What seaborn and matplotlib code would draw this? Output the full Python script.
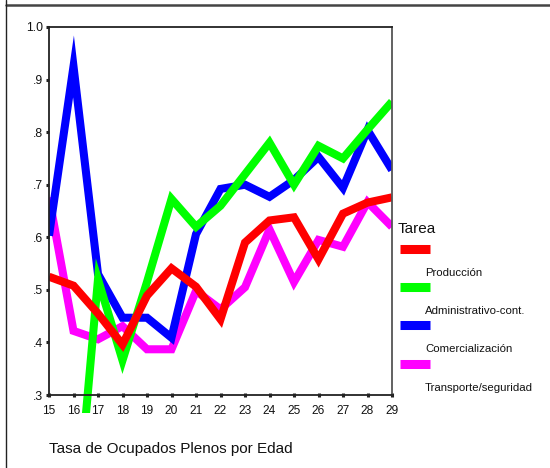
"""
Tasa de Ocupados Plenos por Edad, por tarea (recreación de un gráfico SPSS).
"""

import numpy as np
import pandas as pd
import matplotlib
matplotlib.use("Agg")
import matplotlib.pyplot as plt
from matplotlib.lines import Line2D
import seaborn as sns

# Datos
edades = list(range(15, 30))
tareas = ["Producción", "Administrativo-cont.", "Comercialización", "Transporte/seguridad"]
colores = ["#FF0000", "#00FF00", "#0000FF", "#FF00FF"]

produccion = [0.525, 0.508, 0.455, 0.396, 0.489, 0.541, 0.506, 0.444,
              0.590, 0.632, 0.638, 0.558, 0.645, 0.666, 0.676]
# a los 15 años no hay dato; a los 16 la tasa cae fuera del eje
administrativo = [np.nan, 0.0, 0.52, 0.366, 0.515, 0.673, 0.62, 0.66,
                  0.72, 0.78, 0.70, 0.774, 0.75, 0.805, 0.858]
comercializacion = [0.603, 0.925, 0.53, 0.447, 0.447, 0.409, 0.606, 0.692,
                    0.70, 0.677, 0.709, 0.753, 0.694, 0.804, 0.728]
transporte = [0.676, 0.422, 0.406, 0.431, 0.387, 0.387, 0.498, 0.463,
              0.505, 0.615, 0.515, 0.595, 0.582, 0.667, 0.62]

y_ticks = [0.3, 0.4, 0.5, 0.6, 0.7, 0.8, 0.9, 1.0]
y_labels = [".3", ".4", ".5", ".6", ".7", ".8", ".9", "1.0"]

# Tabla en formato largo para seaborn
series = [produccion, administrativo, comercializacion, transporte]
df = pd.concat(
    [pd.DataFrame({"Edad": edades, "Tasa": vals, "Tarea": t}) for t, vals in zip(tareas, series)],
    ignore_index=True,
).dropna()

sns.set_style("white")
plt.rcParams["font.family"] = ["Liberation Sans", "DejaVu Sans"]

W, H = 550, 468
fig = plt.figure(figsize=(W / 100, H / 100), dpi=100)
ax = fig.add_axes([49 / W, 1 - 413 / H, (392 - 49) / W, (413 - 27) / H])

# magenta abajo, rojo arriba (como en el original)
sns.lineplot(data=df, x="Edad", y="Tasa", hue="Tarea", hue_order=tareas[::-1],
             palette=dict(zip(tareas, colores)), lw=5.8, solid_joinstyle="miter",
             solid_capstyle="butt", errorbar=None, legend=False, ax=ax)

ax.set_xlim(15, 29)
ax.set_ylim(0.2658, 1.0)
ax.set_xticks(edades)
ax.set_xticklabels([str(e) for e in edades])
ax.set_yticks(y_ticks)
ax.set_yticklabels(y_labels)
ax.set_xlabel("")
ax.set_ylabel("")

for s in ax.spines.values():
    s.set_color("#222222")
    s.set_linewidth(1.3)
ax.spines["bottom"].set_position(("data", 0.3))
ax.spines["left"].set_bounds(0.3, 1.0)
ax.spines["right"].set_bounds(0.3, 1.0)
ax.spines["right"].set_color("#555555")

ax.tick_params(axis="y", direction="out", length=2.5, width=2.2, color="#222222",
               pad=1.5, labelsize=8.8, labelcolor="#111111", left=True)
ax.tick_params(axis="x", direction="inout", length=3, width=2.2, color="#222222",
               pad=5.5, labelsize=8.6, labelcolor="#111111", bottom=True)

# Título inferior
fig.text(49 / W, 1 - 449 / H, "Tasa de Ocupados Plenos por Edad", fontsize=11,
         va="center", ha="left", color="#111111")

# Leyenda al estilo SPSS: muestra arriba, etiqueta debajo
fig.text(398 / W, 1 - 229 / H, "Tarea", fontsize=11, va="center", ha="left", color="#111111")
swatch_y = [249, 287, 325, 364]
label_y = [273, 311, 349, 388]
for t, c, sy, ly in zip(tareas, colores, swatch_y, label_y):
    fig.add_artist(Line2D([400 / W, 430 / W], [1 - sy / H, 1 - sy / H], color=c,
                          lw=6.5, solid_capstyle="butt", transform=fig.transFigure))
    fig.text(425 / W, 1 - ly / H, t, fontsize=8.2, va="center", ha="left", color="#111111")

# Marco exterior (borde superior e izquierdo)
fig.add_artist(Line2D([6 / W, 1], [1 - 4.5 / H, 1 - 4.5 / H], color="#444444", lw=1.8,
                      transform=fig.transFigure))
fig.add_artist(Line2D([6 / W, 6 / W], [0, 1], color="#222222", lw=1.0,
                      transform=fig.transFigure))

fig.savefig("out.png", dpi=100)
